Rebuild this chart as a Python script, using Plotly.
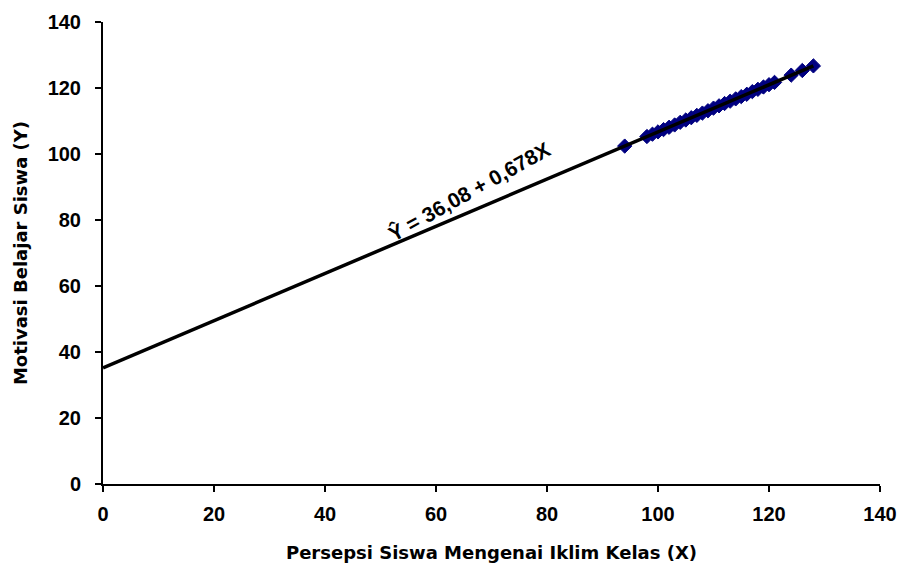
import plotly.graph_objects as go

# Data points (X, predicted Y)
x_points = [94, 98, 99, 100, 101, 102, 103, 104, 105, 106, 107, 108, 109, 110,
            111, 112, 113, 114, 115, 116, 117, 118, 119, 120, 121, 124, 126, 128]
y_points = [102.4, 105.3, 106.0, 106.7, 107.4, 108.1, 108.8, 109.6, 110.3, 111.0,
            111.7, 112.4, 113.1, 113.9, 114.6, 115.3, 116.0, 116.7, 117.4, 118.1,
            118.9, 119.6, 120.3, 121.0, 121.7, 123.9, 125.3, 126.7]

# Regression line endpoints
line_x = [0, 128]
line_y = [35.2, 126.7]

tick_vals = [0, 20, 40, 60, 80, 100, 120, 140]
tick_text = ["0", "20", "40", "60", "80", "100", "120", "140"]

equation = "Ŷ = 36,08 + 0,678X"
x_title = "Persepsi Siswa Mengenai Iklim Kelas (X)"
y_title = "Motivasi Belajar Siswa (Y)"

fig = go.Figure()
fig.add_trace(go.Scatter(
    x=x_points, y=y_points, mode="markers",
    marker=dict(symbol="diamond", size=11, color="#000080",
                line=dict(color="#000080", width=1)),
    showlegend=False, cliponaxis=False))
fig.add_trace(go.Scatter(
    x=line_x, y=line_y, mode="lines",
    line=dict(color="black", width=3.5),
    showlegend=False, cliponaxis=False))

fig.add_annotation(
    x=66, y=88.5, xref="x", yref="y", text=equation, showarrow=False,
    textangle=-29,
    font=dict(family="Liberation Sans Narrow, Arial Narrow, Arial", size=21,
              color="black", weight="bold"))

axis_common = dict(
    range=[0, 140], tickvals=tick_vals, ticktext=tick_text,
    showgrid=False, zeroline=False, showline=True, linecolor="black",
    linewidth=2, ticks="outside", ticklen=6, tickwidth=2, tickcolor="black",
    automargin=False,
    tickfont=dict(family="Liberation Sans, Arial", size=20, color="black",
                  weight="bold"))

title_font = dict(family="DejaVu Sans", size=18, color="black", weight="bold")

fig.update_layout(
    width=901, height=569,
    margin=dict(l=103, r=21, t=22, b=85),
    paper_bgcolor="white", plot_bgcolor="white",
    xaxis=dict(**axis_common, ticklabelstandoff=5,
               title=dict(text=x_title, standoff=22, font=title_font)),
    yaxis=dict(**axis_common, ticklabelstandoff=10,
               title=dict(text=y_title, standoff=15, font=title_font)),
)

fig.write_html("out.html")
